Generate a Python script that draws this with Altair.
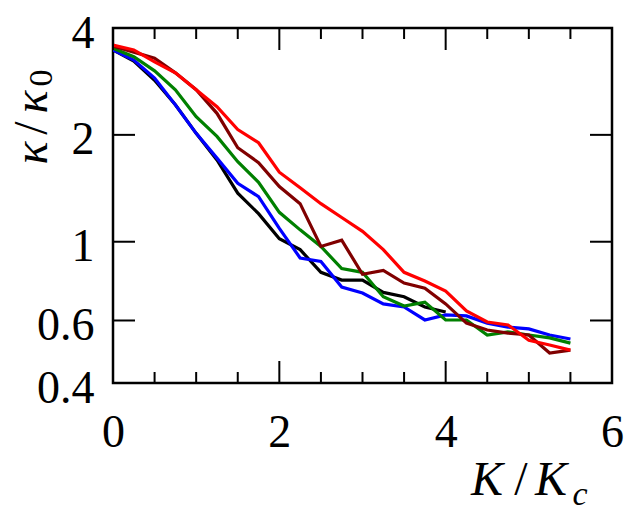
import altair as alt
import pandas as pd

# K/Kc sample points shared by every curve
k_ratio = [0.0, 0.25, 0.5, 0.75, 1.0, 1.25, 1.5, 1.75, 2.0, 2.25, 2.5, 2.75,
           3.0, 3.25, 3.5, 3.75, 4.0, 4.25, 4.5, 4.75, 5.0, 5.25, 5.5]

# kappa/kappa0 for each curve
kappa_black = [3.47, 3.23, 2.85, 2.43, 2.02, 1.70, 1.37, 1.20, 1.02, 0.95, 0.82, 0.78,
               0.78, 0.72, 0.70, 0.655, 0.634]
kappa_blue = [3.47, 3.25, 2.89, 2.43, 2.02, 1.72, 1.46, 1.34, 1.09, 0.90, 0.88, 0.745,
              0.717, 0.668, 0.655, 0.602, 0.622, 0.618, 0.590, 0.575, 0.568, 0.546, 0.532]
kappa_green = [3.51, 3.32, 3.03, 2.68, 2.25, 1.98, 1.68, 1.47, 1.21, 1.08, 0.97, 0.84,
               0.82, 0.70, 0.659, 0.676, 0.602, 0.602, 0.546, 0.557, 0.546, 0.536, 0.518]
kappa_darkred = [3.56, 3.42, 3.29, 2.99, 2.68, 2.30, 1.84, 1.67, 1.43, 1.28, 0.97, 1.01,
                 0.81, 0.83, 0.765, 0.74, 0.668, 0.590, 0.564, 0.553, 0.546, 0.486, 0.495]
kappa_red = [3.58, 3.47, 3.21, 2.99, 2.68, 2.40, 2.07, 1.90, 1.57, 1.42, 1.28, 1.17,
             1.07, 0.95, 0.82, 0.775, 0.726, 0.638, 0.594, 0.583, 0.528, 0.512, 0.495]

curves = [
    (kappa_black, "#000000"),
    (kappa_blue, "#0000ff"),
    (kappa_green, "#008000"),
    (kappa_darkred, "#800000"),
    (kappa_red, "#ff0000"),
]

# axis ticks
x_major = [0, 2, 4, 6]
x_minor = [0.5, 1, 1.5, 2.5, 3, 3.5, 4.5, 5, 5.5]
y_major = [0.4, 0.6, 1, 2, 4]

W, H = 499, 355
SERIF = "Liberation Serif"
MAJOR, MINOR = 22, 11

x_scale = alt.Scale(domain=[0, 6], nice=False, zero=False)
y_scale = alt.Scale(type="log", domain=[0.4, 4], nice=False)

x_axis = alt.Axis(values=x_major, ticks=False, domain=False, grid=False, title=None,
                  labelFont=SERIF, labelFontSize=46, labelColor="black",
                  labelBaseline="alphabetic", labelPadding=63, labelOverlap=False,
                  labelFlush=False)
y_axis = alt.Axis(values=y_major, format="~g", ticks=False, domain=False, grid=False,
                  title=None, labelFont=SERIF, labelFontSize=46, labelColor="black",
                  labelBaseline="middle", labelPadding=19, labelOffset=5,
                  labelOverlap=False, labelFlush=False)

X = alt.X("K:Q", scale=x_scale, axis=x_axis)
Y = alt.Y("kappa:Q", scale=y_scale, axis=y_axis)

layers = []

# curves
for values, color in curves:
    df = pd.DataFrame({"K": k_ratio[:len(values)], "kappa": values})
    layers.append(
        alt.Chart(df).mark_line(color=color, strokeWidth=3.2, clip=True).encode(x=X, y=Y)
    )

# inward ticks on all four sides
xmaj = pd.DataFrame({"K": x_major})
xmin = pd.DataFrame({"K": x_minor})
ymaj = pd.DataFrame({"kappa": y_major})
tick_style = dict(color="black", strokeWidth=2)

for df, length in [(xmaj, MAJOR), (xmin, MINOR)]:
    layers.append(alt.Chart(df).mark_rule(**tick_style).encode(
        x=X, y=alt.value(H), y2=alt.value(H - length)))
    layers.append(alt.Chart(df).mark_rule(**tick_style).encode(
        x=X, y=alt.value(0), y2=alt.value(length)))

layers.append(alt.Chart(ymaj).mark_rule(**tick_style).encode(
    y=Y, x=alt.value(0), x2=alt.value(MAJOR)))
layers.append(alt.Chart(ymaj).mark_rule(**tick_style).encode(
    y=Y, x=alt.value(W - MAJOR), x2=alt.value(W)))

# axis titles, set glyph by glyph so the subscripts sit low
one = pd.DataFrame({"a": [0]})


def glyph(text, x, y, size=48, italic=True, angle=0):
    kw = dict(text=text, font=SERIF, fontSize=size, align="center",
              baseline="alphabetic", color="black")
    if italic:
        kw["fontStyle"] = "italic"
    if angle:
        kw["angle"] = angle
    return alt.Chart(one).mark_text(**kw).encode(x=alt.value(x), y=alt.value(y))


layers += [
    glyph("K", 374, 467),
    glyph("/", 408, 467, italic=False),
    glyph("K", 438, 467),
    glyph("c", 467, 477, size=34),
    glyph("κ", -66, 125, angle=270),
    glyph("/", -66, 100, italic=False, angle=270),
    glyph("κ", -66, 74, angle=270),
    glyph("0", -61, 50, size=34, italic=False, angle=270),
]

chart = alt.layer(*layers).properties(
    width=W, height=H,
    autosize=alt.AutoSizeParams(type="none"),
    padding={"left": 113, "top": 28, "right": 20, "bottom": 128},
    background="white",
).configure_view(stroke="black", strokeWidth=2.5)

chart.save("out.html", embed_options={"renderer": "svg", "actions": False})
